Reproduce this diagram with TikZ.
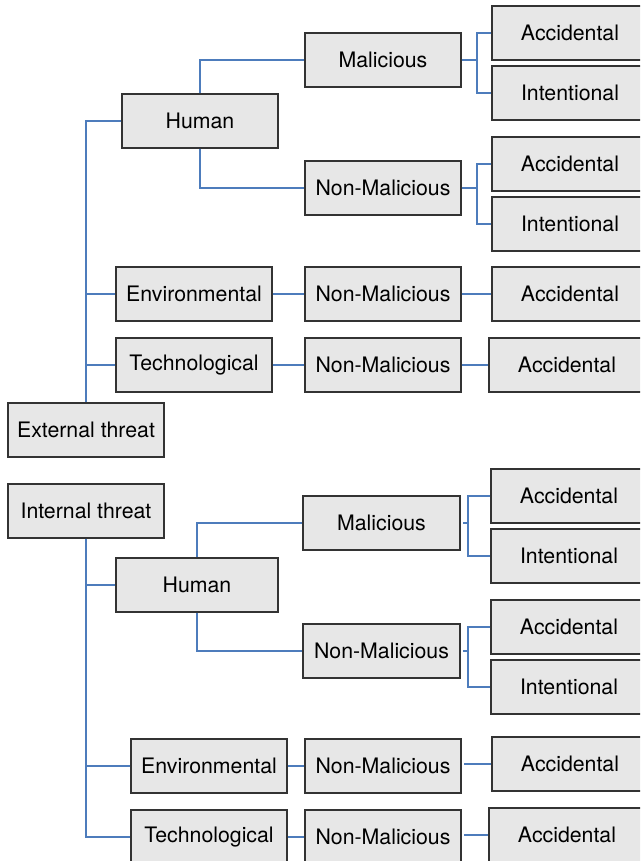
\documentclass[tikz,border=0pt]{standalone}
\usepackage{fontspec}
\setmainfont{TeX Gyre Heros}
\definecolor{boxfill}{HTML}{E7E7E7}
\definecolor{boxline}{HTML}{333333}
\definecolor{wire}{HTML}{4D7CBC}
\begin{document}
\begin{tikzpicture}[x=1pt,y=-1pt,
  cat/.style={draw=boxline,fill=boxfill,line width=1.3pt,minimum width=156pt,
    minimum height=54pt,inner sep=0pt,text=black,
    font=\fontsize{21.3}{24}\selectfont},
  link/.style={draw=wire,line width=1.1pt}]
\useasboundingbox (0,0) rectangle (640,861);
\clip (0,0) rectangle (640,861);

% ---------- external threats ----------
\node[cat] (ext)   at (86,430)  {External threat};
\node[cat] (hum1)  at (200,121) {Human};
\node[cat] (mal1)  at (383,60)  {Malicious};
\node[cat] (acc1)  at (570,33)  {Accidental};
\node[cat] (int1)  at (570,93)  {Intentional};
\node[cat] (nm1)   at (383,188) {Non-Malicious};
\node[cat] (acc2)  at (570,164) {Accidental};
\node[cat] (int2)  at (570,224) {Intentional};
\node[cat] (env1)  at (194,294) {Environmental};
\node[cat] (nme1)  at (383,294) {Non-Malicious};
\node[cat] (acce1) at (570,294) {Accidental};
\node[cat] (tec1)  at (194,365) {Technological};
\node[cat] (nmt1)  at (383,365) {Non-Malicious};
\node[cat] (acct1) at (567,365) {Accidental};

\coordinate (j1) at (477,60);
\coordinate (j2) at (477,188);

\draw[link] (hum1.west) -| (ext.north);
\draw[link] (env1.west) -- (env1.west -| ext.north);
\draw[link] (tec1.west) -- (tec1.west -| ext.north);
\draw[link] (hum1.north) |- (mal1.west);
\draw[link] (hum1.south) |- (nm1.west);
\draw[link] (mal1.east) -- (j1);
\draw[link] (acc1.west) -| (j1) |- (int1.west);
\draw[link] (nm1.east) -- (j2);
\draw[link] (acc2.west) -| (j2) |- (int2.west);
\draw[link] (env1.east) -- (nme1.west);
\draw[link] (nme1.east) -- (acce1.west);
\draw[link] (tec1.east) -- (nmt1.west);
\draw[link] (nmt1.east) -- (acct1.west);

% ---------- internal threats ----------
\node[cat] (intn)  at (86,511)  {Internal threat};
\node[cat,minimum width=162pt] (hum2) at (197,585) {Human};
\node[cat,minimum width=157pt] (mal2) at (381.5,523) {Malicious};
\node[cat] (acc3)  at (569,496) {Accidental};
\node[cat] (int3)  at (569,556) {Intentional};
\node[cat,minimum width=157pt] (nm2) at (381.5,651) {Non-Malicious};
\node[cat] (acc4)  at (569,627) {Accidental};
\node[cat] (int4)  at (569,687) {Intentional};
\node[cat] (env2)  at (209,766) {Environmental};
\node[cat] (nme2)  at (383,766) {Non-Malicious};
\node[cat] (acce2) at (570,764) {Accidental};
\node[cat] (tec2)  at (209,837) {Technological};
\node[cat] (nmt2)  at (383,837) {Non-Malicious};
\node[cat] (acct2) at (567,835) {Accidental};

\coordinate (s3) at (463,523);
\coordinate (j3) at (468,523);
\coordinate (s4) at (463,651);
\coordinate (j4) at (468,651);
\coordinate (s5) at (464,764);
\coordinate (s6) at (464,835);

\draw[link] (intn.south) |- (tec2.west);
\draw[link] (hum2.west) -- (hum2.west -| intn.south);
\draw[link] (env2.west) -- (env2.west -| intn.south);
\draw[link] (hum2.north) |- (mal2.west);
\draw[link] (hum2.south) |- (nm2.west);
\draw[link] (s3) -- (j3);
\draw[link] (acc3.west) -| (j3) |- (int3.west);
\draw[link] (s4) -- (j4);
\draw[link] (acc4.west) -| (j4) |- (int4.west);
\draw[link] (env2.east) -- (nme2.west);
\draw[link] (s5) -- (acce2.west);
\draw[link] (tec2.east) -- (nmt2.west);
\draw[link] (s6) -- (acct2.west);
\end{tikzpicture}
\end{document}
